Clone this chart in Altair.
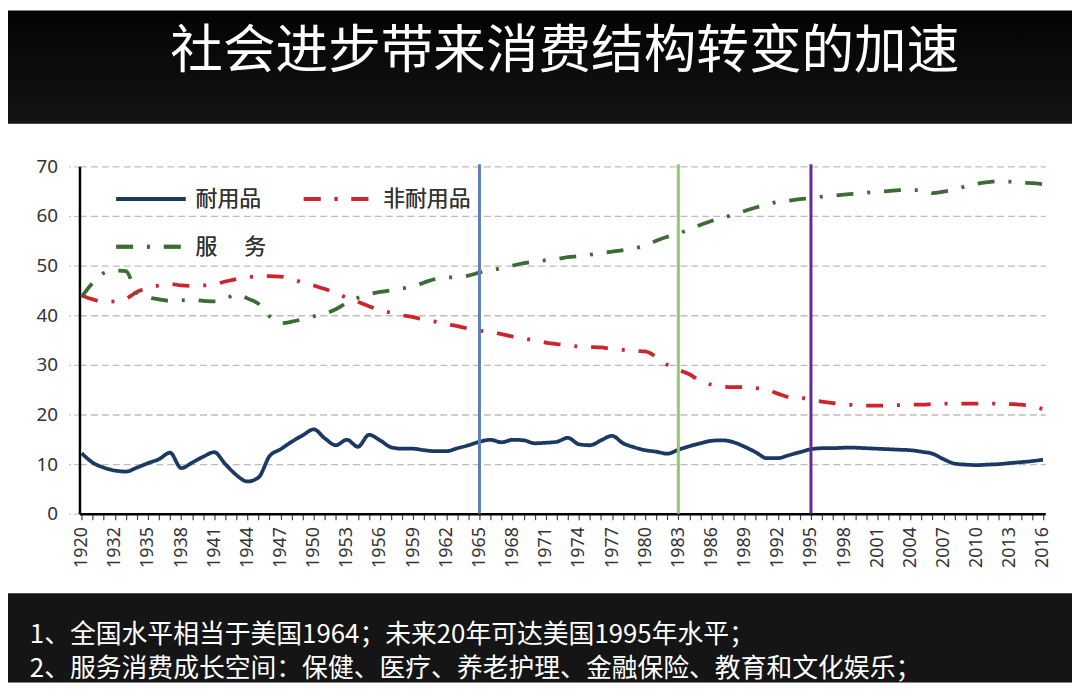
import json
import altair as alt
import pandas as pd

# ---------------- data ----------------
years = ["1920", "1930", "1931"] + [str(y) for y in range(1932, 2017)]
label_years = years[::3]
y_ticks = [0, 10, 20, 30, 40, 50, 60, 70]

durables = [12.2, 10.3, 9.3, 8.7, 8.5, 9.3, 10.2, 11.0, 12.3, 9.2,
            10.3, 11.5, 12.4, 10.0, 7.8, 6.5, 7.3, 11.6, 13.0, 14.5,
            15.8, 17.0, 15.2, 13.8, 14.9, 13.5, 15.9, 14.8, 13.4, 13.1,
            13.1, 12.8, 12.6, 12.6, 13.2, 13.8, 14.5, 14.9, 14.4, 14.9,
            14.8, 14.2, 14.3, 14.5, 15.3, 14.0, 13.8, 14.8, 15.7, 14.2,
            13.4, 12.8, 12.5, 12.1, 12.9, 13.6, 14.2, 14.7, 14.8, 14.4,
            13.5, 12.4, 11.2, 11.2, 11.8, 12.4, 13.0, 13.2, 13.2, 13.3,
            13.3, 13.2, 13.1, 13.0, 12.9, 12.8, 12.5, 12.1, 11.0, 10.1,
            9.9, 9.8, 9.9, 10.0, 10.2, 10.4, 10.6, 10.9]

nondurables = [44.0, 43.2, 42.7, 42.8, 43.3, 44.7, 45.5, 46.0, 46.3, 46.0,
               45.9, 46.0, 46.2, 46.8, 47.3, 47.6, 47.9, 47.9, 47.8, 47.3,
               46.6, 46.0, 45.3, 44.5, 43.5, 42.7, 41.8, 41.0, 40.5, 40.0,
               39.6, 39.1, 38.7, 38.2, 37.8, 37.3, 36.9, 36.6, 36.2, 35.7,
               35.3, 34.9, 34.5, 34.2, 33.9, 33.7, 33.6, 33.5, 33.2, 33.0,
               32.8, 32.7, 31.6, 30.0, 29.0, 28.1, 26.7, 26.0, 25.6, 25.5,
               25.5, 25.3, 25.0, 24.2, 23.5, 23.4, 22.9, 22.6, 22.3, 22.0,
               21.9, 21.8, 21.8, 21.8, 21.9, 22.0, 22.0, 22.1, 22.2, 22.2,
               22.2, 22.2, 22.2, 22.2, 22.1, 22.0, 21.6, 21.1]

services = [43.7, 46.5, 48.5, 49.0, 48.9, 44.5, 43.6, 43.2, 42.9, 43.0,
            43.1, 42.9, 42.8, 43.3, 44.2, 43.4, 42.3, 39.8, 38.4, 38.7,
            39.2, 39.8, 40.3, 41.2, 42.5, 43.5, 44.2, 44.7, 45.0, 45.4,
            45.8, 46.6, 47.3, 47.6, 47.7, 48.0, 48.6, 49.0, 49.5, 50.0,
            50.5, 50.8, 51.1, 51.3, 51.7, 51.9, 52.2, 52.5, 52.8, 53.1,
            53.5, 54.0, 55.0, 55.8, 56.4, 57.4, 58.2, 59.0, 59.6, 60.3,
            61.0, 61.7, 62.2, 62.9, 63.1, 63.4, 63.6, 63.9, 64.1, 64.3,
            64.5, 64.7, 64.9, 65.0, 65.2, 65.2, 65.2, 64.6, 64.9, 65.3,
            66.0, 66.5, 66.8, 67.0, 66.9, 66.7, 66.6, 66.4]

series = ["耐用品", "非耐用品", "服\u3000 务"]
series_colors = ["#1b3a63", "#d0242c", "#3c6b35"]
series_dashes = [[1, 0], [17, 14, 3, 14], [17, 14, 3, 14]]

markers = ["1965", "1983", "1995"]
marker_colors = ["#5b7fb6", "#95c86a", "#66299a"]

title_text = "社会进步带来消费结构转变的加速"
note_1 = "1、全国水平相当于美国1964；未来20年可达美国1995年水平；"
note_2 = "2、服务消费成长空间：保健、医疗、养老护理、金融保险、教育和文化娱乐；"

# ---------------- layout ----------------
W, H = 973, 350
PAD = {"left": 72, "top": 157, "right": 27, "bottom": 170}
CJK = "Noto Sans CJK SC"

rows = []
for name, vals in zip(series, [durables, nondurables, services]):
    for yr, v in zip(years, vals):
        rows.append({"年份": yr, "占比": v, "类别": name})
df = pd.DataFrame(rows)
mk = pd.DataFrame({"年份": markers, "标记": markers})
one = pd.DataFrame({"t": [title_text]})

label_expr = "indexof(" + json.dumps(label_years) + ", datum.value) >= 0 ? datum.value : ''"

x_enc = alt.X(
    "年份:O",
    scale=alt.Scale(type="point", domain=years, padding=0.2),
    axis=alt.Axis(values=years, labelExpr=label_expr, labelAngle=270, labelFontSize=18,
                  labelFont="Noto Sans", labelColor="#333333", labelOverlap=False,
                  tickSize=6, tickColor="#444444", tickWidth=1.2, domainColor="#000000",
                  domainWidth=2.5, labelPadding=7, title=None, grid=False),
)
y_enc = alt.Y(
    "占比:Q",
    scale=alt.Scale(domain=[0, 70], nice=False),
    axis=alt.Axis(values=y_ticks, title=None, grid=True, gridDash=[7, 4], gridColor="#bdbdbd",
                  gridWidth=1.3, domainColor="#000000", domainWidth=2.5, tickSize=11,
                  tickColor="#bdbdbd", tickDash=[6, 3], labelPadding=11, labelFontSize=19,
                  labelColor="#333333", labelFont="Noto Sans"),
)

legend = alt.Legend(orient="none", legendX=35, legendY=-4, columns=2, direction="horizontal",
                    title=None, symbolType="stroke", symbolSize=4900, symbolStrokeWidth=4,
                    symbolDash=alt.ExprRef(expr="scale('strokeDash', datum.value)"),
                    labelFontSize=22, labelFont=CJK, labelColor="#333333",
                    columnPadding=30, rowPadding=-8, labelOffset=8, padding=0)

lines = alt.Chart(df).mark_line(strokeWidth=3.8, interpolate="monotone").encode(
    x=x_enc,
    y=y_enc,
    color=alt.Color("类别:N", sort=series,
                    scale=alt.Scale(domain=series, range=series_colors), legend=legend),
    strokeDash=alt.StrokeDash("类别:N", sort=series,
                              scale=alt.Scale(domain=series, range=series_dashes), legend=legend),
)

rules = alt.Chart(mk).mark_rule(strokeWidth=3).encode(
    x=x_enc,
    y=alt.value(-2),
    y2=alt.value(H),
    color=alt.Color("标记:N", scale=alt.Scale(domain=markers, range=marker_colors), legend=None),
)

top_band = alt.Chart(one).mark_rect(
    color=alt.Gradient(gradient="linear", x1=0, x2=0, y1=0, y2=1,
                       stops=[alt.GradientStop(color="#030303", offset=0),
                              alt.GradientStop(color="#141414", offset=1)])
).encode(x=alt.value(-PAD["left"]), x2=alt.value(W + PAD["right"]),
         y=alt.value(-PAD["top"]), y2=alt.value(-43))

bottom_band = alt.Chart(one).mark_rect(color="#151515").encode(
    x=alt.value(-PAD["left"]), x2=alt.value(W + PAD["right"]),
    y=alt.value(430), y2=alt.value(H + PAD["bottom"]))

title = alt.Chart(one).mark_text(font=CJK, fontSize=53, color="#ffffff", align="center",
                                 baseline="middle").encode(
    text="t:N", x=alt.value(489), y=alt.value(-115))

n1 = alt.Chart(pd.DataFrame({"t": [note_1]})).mark_text(
    font=CJK, fontSize=26, color="#ffffff", align="left", baseline="middle").encode(
    text="t:N", x=alt.value(-50), y=alt.value(472))
n2 = alt.Chart(pd.DataFrame({"t": [note_2]})).mark_text(
    font=CJK, fontSize=26, color="#ffffff", align="left", baseline="middle").encode(
    text="t:N", x=alt.value(-50), y=alt.value(506))

chart = alt.layer(top_band, bottom_band, title, n1, n2, lines, rules).resolve_scale(
    color="independent"
).properties(
    width=W, height=H, padding=PAD, autosize=alt.AutoSizeParams(type="none"),
    background="#ffffff",
).configure_view(stroke=None)

chart.save("out.html", embed_options={"renderer": "svg", "actions": False})
